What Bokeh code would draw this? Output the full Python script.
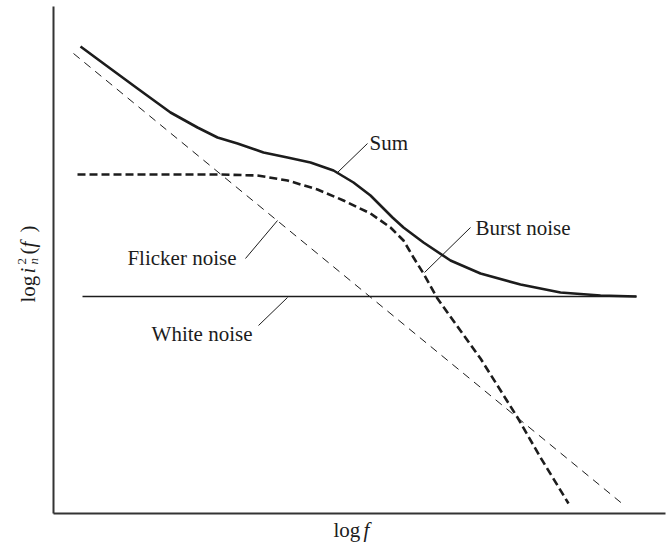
import math
from bokeh.plotting import figure
from bokeh.models import Range1d, FixedTicker
from bokeh.core.properties import value
from bokeh.embed import file_html
from bokeh.resources import INLINE

# ---- data (log f on x, log noise power on y; arbitrary units) ----
flicker_x = [20, 571]
flicker_y = [460, 8]

white_x = [29, 583]
white_y = [217, 217]

burst_x = [24, 167, 204, 234, 264, 290, 317, 337, 350, 360, 370, 384, 427, 464, 487, 515]
burst_y = [339, 339, 338, 333, 324, 313, 300, 286, 273, 256, 240, 215, 155, 96, 56, 10]

sum_x = [27, 50, 84, 117, 144, 164, 184, 210, 234, 257, 280, 300, 317, 330, 339, 350,
         370, 397, 427, 467, 507, 547, 583]
sum_y = [467, 450, 425, 401, 386, 376, 370, 361, 356, 351, 343, 331, 318, 305, 296, 286,
         271, 253, 240, 229, 221, 218, 217]

label_names = ["Sum", "Burst noise", "Flicker noise", "White noise"]

# ---- figure ----
FONT = "Liberation Serif"
INK = "#1c1c1c"

p = figure(width=666, height=543, output_backend="svg", toolbar_location=None,
           x_range=Range1d(-53, 613), y_range=Range1d(-30, 513),
           min_border=0)
p.outline_line_color = None
p.grid.visible = False
p.background_fill_color = "white"
p.border_fill_color = "white"
for ax in (p.xaxis[0], p.yaxis[0]):
    ax.ticker = FixedTicker(ticks=[])
    ax.major_tick_line_color = None
    ax.minor_tick_line_color = None
    ax.major_label_text_font_size = "0px"
    ax.axis_line_color = "#333333"
    ax.axis_line_width = 2
    ax.fixed_location = 0
p.xaxis[0].bounds = (0, 612)
p.yaxis[0].bounds = (0, 507)

# curves
p.line(flicker_x, flicker_y, line_color=INK, line_width=1, line_dash="8 6")
p.line(white_x, white_y, line_color=INK, line_width=1.5)
p.line(burst_x, burst_y, line_color=INK, line_width=2.6, line_dash="8 4", line_join="round")
p.line(sum_x, sum_y, line_color=INK, line_width=2.6, line_join="round")

# callout labels and leader lines
callouts = {
    "Sum":           dict(tx=316, ty=371, align="left",  seg=(314, 370, 284, 341)),
    "Burst noise":   dict(tx=422, ty=286, align="left",  seg=(417, 286, 371, 241)),
    "Flicker noise": dict(tx=183, ty=256, align="right", seg=(192, 255, 224, 293)),
    "White noise":   dict(tx=199, ty=180, align="right", seg=(205, 188, 234, 216)),
}
for name in label_names:
    c = callouts[name]
    x0, y0, x1, y1 = c["seg"]
    p.segment(x0=[x0], y0=[y0], x1=[x1], y1=[y1], line_color=INK, line_width=1)
    p.text(x=[c["tx"]], y=[c["ty"]], text=[name], text_font=value(FONT),
           text_font_size="21px", text_color=INK, text_align=c["align"],
           text_baseline="alphabetic")

# axis labels built from pieces so that the variables can be italic
def lab(txt, x, y, size="21px", style="normal", angle=0.0):
    p.text(x=[x], y=[y], text=[txt], text_font=value(FONT), text_font_size=size,
           text_font_style=style, text_color=INK, text_align="left",
           text_baseline="alphabetic", angle=angle)

# x label: log f
lab("log", 280, -16)
lab("f", 310, -16, style="italic")

# y label: log i_n^2( f )
A = math.pi / 2
lab("log", -26, 211, angle=A)
lab("i", -26, 240, style="italic", angle=A)
lab("n", -20, 249, size="13px", style="italic", angle=A)
lab("2", -32, 249, size="13px", angle=A)
lab("(", -26, 259, angle=A)
lab("f", -26, 266, style="italic", angle=A)
lab(")", -26, 281, angle=A)

open("out.html", "w").write(file_html(p, INLINE))
